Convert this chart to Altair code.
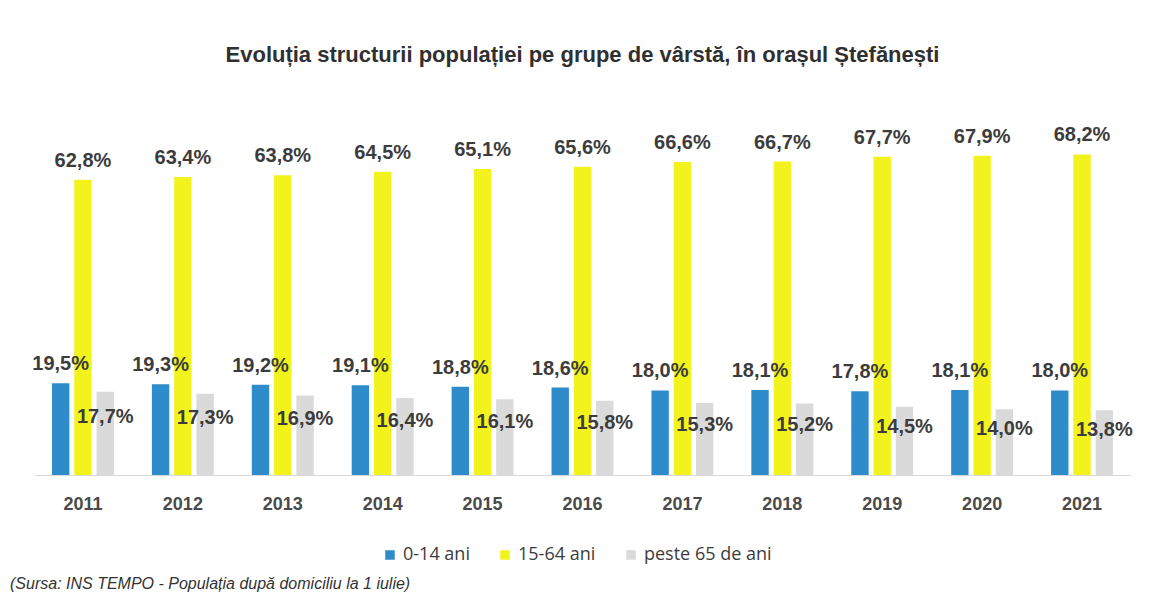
import altair as alt
import pandas as pd

years = ["2011", "2012", "2013", "2014", "2015", "2016", "2017", "2018", "2019", "2020", "2021"]
groups = ["0-14 ani", "15-64 ani", "peste 65 de ani"]
young = [19.5, 19.3, 19.2, 19.1, 18.8, 18.6, 18.0, 18.1, 17.8, 18.1, 18.0]
adult = [62.8, 63.4, 63.8, 64.5, 65.1, 65.6, 66.6, 66.7, 67.7, 67.9, 68.2]
old = [17.7, 17.3, 16.9, 16.4, 16.1, 15.8, 15.3, 15.2, 14.5, 14.0, 13.8]
colors = ["#2f8ccb", "#f2f21c", "#dadada"]

title_text = "Evoluția structurii populației pe grupe de vârstă, în orașul Ștefănești"
source_text = "(Sursa: INS TEMPO - Populația după domiciliu la 1 iulie)"

rows = []
for i, yr in enumerate(years):
    for g, vals in zip(groups, [young, adult, old]):
        v = vals[i]
        rows.append({"year": yr, "group": g, "value": v,
                     "label": f"{v:.1f}".replace(".", ",") + "%"})
df = pd.DataFrame(rows)

FONT = "Liberation Sans, Arial, sans-serif"
TXT = "#3c3c3c"

x_enc = alt.X("year:N", sort=years,
              scale=alt.Scale(paddingInner=0.38, paddingOuter=0.17),
              axis=alt.Axis(title=None, labelAngle=0, ticks=False, grid=False,
                            domainColor="#d9d9d9", domainWidth=1,
                            labelFont=FONT, labelFontSize=18, labelFontWeight="bold",
                            labelColor="#4a4a4a", labelPadding=20))
xo_enc = alt.XOffset("group:N", sort=groups,
                     scale=alt.Scale(domain=groups, paddingInner=0.22))
y_scale = alt.Scale(domain=[0, 70])

base = alt.Chart(df).encode(x=x_enc, xOffset=xo_enc)

bars = base.mark_bar().encode(
    y=alt.Y("value:Q", scale=y_scale, axis=None),
    color=alt.Color("group:N", sort=groups,
                    scale=alt.Scale(domain=groups, range=colors),
                    legend=alt.Legend(title=None, orient="none", direction="horizontal",
                                      legendX=346, legendY=400, symbolType="square",
                                      symbolSize=90, symbolStrokeWidth=0,
                                      labelFont="Open Sans", labelFontSize=18,
                                      labelColor=TXT, labelOffset=4, columnPadding=26,
                                      padding=0)),
)

top_labels = base.transform_filter(
    alt.FieldOneOfPredicate(field="group", oneOf=["0-14 ani", "15-64 ani"])
).mark_text(baseline="bottom", dy=-9, font=FONT, fontSize=20,
            fontWeight="bold", color=TXT).encode(
    y=alt.Y("value:Q", scale=y_scale, axis=None),
    text="label:N",
)

mid_labels = base.transform_filter(
    alt.FieldEqualPredicate(field="group", equal="peste 65 de ani")
).transform_calculate(
    ypos="datum.value * 0.7"
).mark_text(baseline="middle", font=FONT, fontSize=20,
            fontWeight="bold", color=TXT).encode(
    y=alt.Y("ypos:Q", scale=y_scale, axis=None),
    text="label:N",
)

source = alt.Chart(pd.DataFrame({"t": [source_text]})).mark_text(
    align="left", baseline="middle", font=FONT, fontSize=16,
    fontStyle="italic", color="#333333"
).encode(x=alt.value(-25), y=alt.value(438), text="t:N")

chart = alt.layer(bars, top_labels, mid_labels, source).properties(
    width=1095, height=329,
    title=alt.TitleParams(title_text, font=FONT, fontSize=22, fontWeight="bold",
                          color="#303030", anchor="middle", offset=58),
    autosize=alt.AutoSizeParams(type="none"),
    padding={"left": 27, "top": 138, "right": 10, "bottom": 121},
).configure_view(strokeWidth=0)

chart.save("out.html", embed_options={"renderer": "svg", "actions": False})
